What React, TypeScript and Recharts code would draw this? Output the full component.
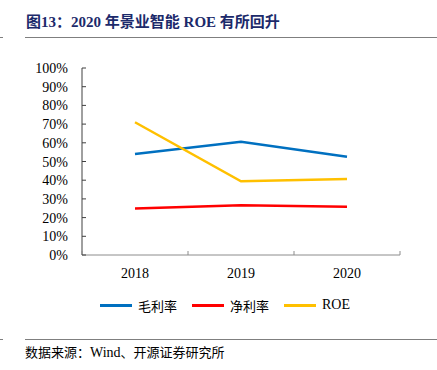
import React from 'react';
import { LineChart, Line, XAxis, YAxis } from 'recharts';

const years = ['2018', '2019', '2020'];
const grossMargin = [54.0, 60.6, 52.6];
const netMargin = [24.8, 26.6, 25.8];
const roe = [71.0, 39.4, 40.6];
const yTicks = [0, 10, 20, 30, 40, 50, 60, 70, 80, 90, 100];

const data = years.map((y, i) => ({
  year: y,
  gross: grossMargin[i],
  net: netMargin[i],
  roe: roe[i],
}));

const SERIF = '"Liberation Serif", "Times New Roman", "Noto Sans CJK SC", serif';
const CJK = '"Noto Sans CJK SC", sans-serif';

const W = 437;
const H = 370;
const X_H = 30;
const MARGIN = { top: 68, right: 37, bottom: 115 - X_H, left: 22 };
const Y_W = 60;
const plotW = W - MARGIN.left - MARGIN.right - Y_W;
const band = plotW / years.length;

const XTick = (props: any) => {
  const { x, y, payload, index } = props;
  return (
    <g>
      <line x1={x + band / 2} x2={x + band / 2} y1={y} y2={y - 4} stroke="#8c8c8c" strokeWidth={1} />
      {index === 0 && (
        <line x1={x - band / 2} x2={x - band / 2} y1={y} y2={y - 4} stroke="#8c8c8c" strokeWidth={1} />
      )}
      <text x={x} y={y + 23} textAnchor="middle" fontFamily={SERIF} fontSize={14} fill="#000">
        {payload.value}
      </text>
    </g>
  );
};

const YTick = (props: any) => {
  const { x, y, payload } = props;
  return (
    <g>
      <line x1={x} x2={x + 4} y1={y} y2={y} stroke="#404040" strokeWidth={1} />
      <text x={x - 14} y={y + 5} textAnchor="end" fontFamily={SERIF} fontSize={14} fill="#000">
        {payload.value}%
      </text>
    </g>
  );
};

const legendItems = [
  { label: '毛利率', color: '#0070C0', cjk: true },
  { label: '净利率', color: '#FF0000', cjk: true },
  { label: 'ROE', color: '#FFC000', cjk: false },
];

export default function App() {
  return (
    <div style={{ position: 'fixed', left: 0, top: 0, width: W, height: H, background: '#fff' }}>
      <div
        style={{
          position: 'absolute',
          left: 26,
          top: 11,
          fontFamily: SERIF,
          fontWeight: 'bold',
          fontSize: 15,
          color: '#1C2A6B',
          whiteSpace: 'nowrap',
          lineHeight: '20px',
        }}
      >
        <span style={{ fontFamily: CJK }}>图</span>13<span style={{ fontFamily: CJK }}>：</span>2020{' '}
        <span style={{ fontFamily: CJK }}>年景业智能</span> ROE <span style={{ fontFamily: CJK }}>有所回升</span>
      </div>
      <div style={{ position: 'absolute', left: 25, right: 0, top: 37, height: 1, background: '#7f7f7f' }} />
      <div style={{ position: 'absolute', left: 0, width: 3, top: 37, height: 1, background: '#7f7f7f' }} />

      <div style={{ position: 'absolute', left: 0, top: 0 }}>
        <LineChart width={W} height={H} data={data} margin={MARGIN}>
          <XAxis
            dataKey="year"
            height={X_H}
            padding={{ left: band / 2, right: band / 2 }}
            axisLine={{ stroke: '#8c8c8c', strokeWidth: 1 }}
            tickLine={false}
            tickSize={0}
            tickMargin={0}
            tick={<XTick />}
            interval={0}
          />
          <YAxis
            width={Y_W}
            domain={[0, 100]}
            ticks={yTicks}
            axisLine={{ stroke: '#404040', strokeWidth: 1 }}
            tickLine={false}
            tickSize={0}
            tickMargin={0}
            tick={<YTick />}
            interval={0}
          />
          <Line dataKey="gross" stroke="#0070C0" strokeWidth={2.5} dot={false} isAnimationActive={false} />
          <Line dataKey="net" stroke="#FF0000" strokeWidth={2.5} dot={false} isAnimationActive={false} />
          <Line dataKey="roe" stroke="#FFC000" strokeWidth={2.5} dot={false} isAnimationActive={false} />
        </LineChart>
      </div>

      <div style={{ position: 'absolute', left: 100, top: 296, display: 'flex', alignItems: 'center', height: 18 }}>
        {legendItems.map((it, i) => (
          <div key={i} style={{ display: 'flex', alignItems: 'center', marginRight: i < 2 ? 15 : 0 }}>
            <div style={{ width: 32, height: 3, background: it.color, marginRight: 6 }} />
            <span
              style={{
                fontFamily: it.cjk ? CJK : SERIF,
                fontSize: it.cjk ? 13 : 14,
                color: '#000',
                whiteSpace: 'nowrap',
              }}
            >
              {it.label}
            </span>
          </div>
        ))}
      </div>

      <div style={{ position: 'absolute', left: 25, right: 0, top: 339, height: 1, background: '#7f7f7f' }} />
      <div style={{ position: 'absolute', left: 0, width: 3, top: 339, height: 1, background: '#7f7f7f' }} />
      <div
        style={{
          position: 'absolute',
          left: 25,
          top: 343,
          fontSize: 13,
          color: '#000',
          whiteSpace: 'nowrap',
          lineHeight: '18px',
        }}
      >
        <span style={{ fontFamily: CJK }}>数据来源：</span>
        <span style={{ fontFamily: SERIF, fontSize: 14 }}>Wind</span>
        <span style={{ fontFamily: CJK }}>、开源证券研究所</span>
      </div>
    </div>
  );
}
